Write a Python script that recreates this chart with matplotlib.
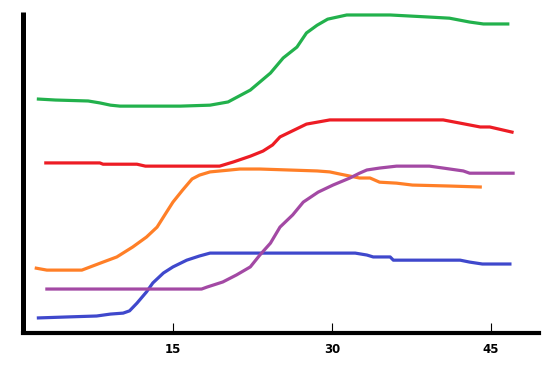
import matplotlib
matplotlib.use("Agg")
import matplotlib.pyplot as plt

green_x = [2.3, 3.9, 7.0, 8.1, 9.1, 10.0, 15.7, 18.5, 20.2, 22.3, 24.2, 25.4, 26.7, 27.6, 28.6, 29.6, 31.4, 35.5, 39.5, 41.1, 43.0, 44.3, 46.6]
green_y = [72.9, 72.6, 72.3, 71.7, 71.0, 70.7, 70.7, 71.0, 72.0, 75.7, 81.0, 85.7, 89.1, 93.5, 95.9, 97.8, 99.1, 99.1, 98.4, 98.1, 96.9, 96.3, 96.3]

red_x = [3.0, 3.7, 8.1, 8.4, 11.6, 12.4, 19.4, 20.7, 22.3, 23.5, 24.4, 25.1, 27.6, 29.8, 40.5, 42.1, 44.0, 44.9, 47.0]
red_y = [53.0, 53.0, 53.0, 52.6, 52.6, 52.0, 52.0, 53.3, 55.1, 56.7, 58.6, 61.1, 65.1, 66.4, 66.4, 65.4, 64.2, 64.2, 62.6]

orange_x = [2.1, 3.1, 6.4, 8.4, 9.7, 11.2, 12.5, 13.5, 14.4, 15.0, 15.9, 16.8, 17.5, 18.5, 20.4, 21.3, 23.2, 28.6, 29.8, 30.8, 32.6, 33.6, 34.5, 36.1, 37.6, 41.1, 44.0]
orange_y = [20.2, 19.6, 19.6, 22.1, 23.7, 26.8, 29.9, 33.0, 37.7, 40.8, 44.5, 48.0, 49.2, 50.2, 50.8, 51.1, 51.1, 50.5, 50.2, 49.5, 48.3, 48.3, 47.0, 46.7, 46.1, 45.8, 45.5]

purple_x = [3.1, 17.7, 18.2, 19.7, 21.0, 22.3, 23.2, 24.2, 25.1, 26.3, 27.3, 28.7, 30.1, 31.7, 32.6, 33.3, 34.5, 36.1, 39.2, 40.5, 42.4, 43.0, 47.1]
purple_y = [13.7, 13.7, 14.3, 15.9, 18.1, 20.6, 24.3, 28.0, 33.0, 36.8, 40.8, 43.9, 46.1, 48.3, 49.8, 50.8, 51.4, 52.0, 52.0, 51.4, 50.5, 49.8, 49.8]

blue_x = [2.3, 5.0, 7.8, 9.1, 10.3, 10.9, 11.6, 12.5, 13.1, 14.1, 15.0, 16.3, 17.5, 18.5, 32.2, 33.3, 33.9, 35.5, 35.8, 42.1, 43.0, 44.2, 46.8]
blue_y = [4.7, 5.0, 5.3, 5.9, 6.2, 6.9, 9.3, 12.8, 15.6, 18.7, 20.6, 22.7, 24.0, 24.9, 24.9, 24.3, 23.7, 23.7, 22.7, 22.7, 22.1, 21.5, 21.5]

x_ticks = [15, 30, 45]
x_tick_labels = ["15", "30", "45"]

fig = plt.figure(figsize=(5.6, 3.71), dpi=100)
ax = fig.add_axes([0.0402, 0.1024, 0.922, 0.865])

lw = 2.3
ax.plot(blue_x, blue_y, color="#3f48cc", lw=lw)
ax.plot(orange_x, orange_y, color="#ff7f27", lw=lw)
ax.plot(purple_x, purple_y, color="#a349a4", lw=lw)
ax.plot(red_x, red_y, color="#ed1c24", lw=lw)
ax.plot(green_x, green_y, color="#22b14c", lw=lw)

ax.set_xlim(0.8, 49.53)
ax.set_ylim(0, 100)

ax.spines["top"].set_visible(False)
ax.spines["right"].set_visible(False)
ax.spines["left"].set_linewidth(3.6)
ax.spines["bottom"].set_linewidth(3.0)
ax.spines["left"].set_capstyle("butt")

ax.set_xticks(x_ticks)
ax.set_xticklabels(x_tick_labels, fontsize=8.5, fontweight="bold")
ax.tick_params(axis="x", direction="in", length=7.5, width=0.8, pad=7)
ax.set_yticks([])

fig.savefig("out.png", dpi=100)
